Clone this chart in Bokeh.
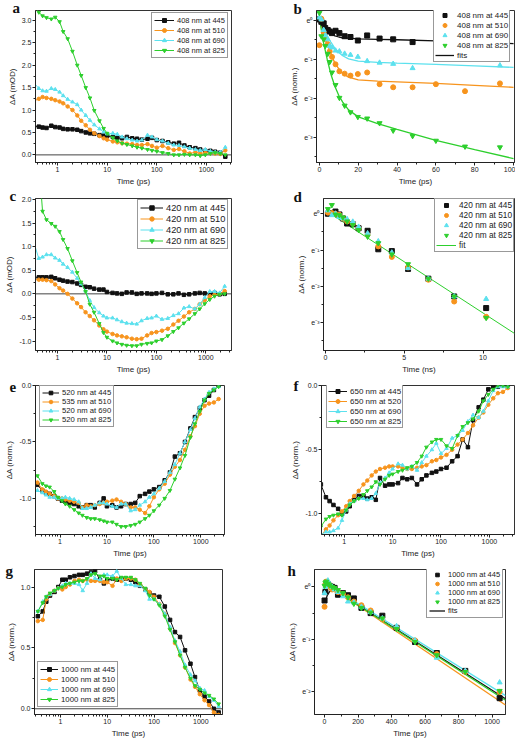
import numpy as np
from bokeh.plotting import figure
from bokeh.layouts import column, row
from bokeh.models import (Range1d, FixedTicker, SingleIntervalTicker, Legend, LegendItem,
                          Span, Title, CustomJSTickFormatter, NumeralTickFormatter)
from bokeh.embed import file_html
from bokeh.resources import INLINE

FONT = "Liberation Sans"
TXT = "#222222"
C445, C510, C690, C825 = "#111111", "#F7941D", "#5CE1EE", "#2DCF2D"

# ---------------- shared log time grid (ps) ----------------
T = [0.33, 0.42, 0.5, 0.6, 0.75, 0.9, 1.1, 1.3, 1.6, 2, 2.5, 3, 3.7, 4.5, 5.5, 7, 8.5, 10,
     13, 16, 20, 25, 32, 40, 50, 65, 80, 100, 130, 170, 220, 280, 360, 460, 600, 750, 950,
     1200, 1500, 1900, 2400]

# ---------------- panel a (mOD) ----------------
a_labels = ["408 nm at 445", "408 nm at 510", "408 nm at 690", "408 nm at 825"]
a_445 = [0.64, 0.63, 0.61, 0.60, 0.65, 0.62, 0.61, 0.58, 0.57, 0.57, 0.56, 0.53, 0.50, 0.48, 0.47,
         0.44, 0.43, 0.42, 0.40, 0.38, 0.37, 0.40, 0.37, 0.36, 0.34, 0.36, 0.38, 0.33, 0.31, 0.28,
         0.25, 0.27, 0.21, 0.17, 0.15, 0.12, 0.09, 0.09, 0.07, 0.05, -0.04]
a_510 = [1.20, 1.25, 1.29, 1.27, 1.25, 1.22, 1.19, 1.15, 1.08, 1.00, 0.88, 0.76, 0.66, 0.56, 0.48,
         0.42, 0.37, 0.34, 0.30, 0.28, 0.26, 0.25, 0.24, 0.22, 0.22, 0.24, 0.20, 0.16, 0.20, 0.15,
         0.11, 0.13, 0.08, 0.03, 0.06, 0.03, 0.05, 0.04, 0.03, 0.02, 0.10]
a_690 = [1.62, 1.48, 1.43, 1.42, 1.48, 1.46, 1.40, 1.32, 1.24, 1.18, 1.12, 1.00, 0.88, 0.77, 0.67,
         0.58, 0.51, 0.47, 0.48, 0.46, 0.40, 0.36, 0.33, 0.31, 0.33, 0.44, 0.40, 0.34, 0.31, 0.26,
         0.22, 0.21, 0.18, 0.15, 0.12, 0.10, 0.12, 0.08, 0.06, 0.06, 0.17]
a_825 = [3.35, 3.18, 3.10, 3.06, 3.03, 3.07, 2.97, 2.75, 2.59, 2.31, 2.00, 1.77, 1.50, 1.27, 0.99,
         0.76, 0.59, 0.48, 0.38, 0.31, 0.26, 0.23, 0.20, 0.17, 0.15, 0.12, 0.10, 0.08, 0.05, 0.03,
         0.00, 0.00, 0.01, 0.00, 0.00, -0.02, 0.00, 0.03, 0.05, 0.03, 0.00]

# ---------------- panel b (ln of normalised dA) ----------------
b_labels = ["408 nm at 445", "408 nm at 510", "408 nm at 690", "408 nm at 825", "fits"]
tb = [0, 1, 2.2, 3, 4.3, 5.3, 6.5, 8.3, 10.3, 13, 16, 19.8, 24.6, 31, 38, 48, 60, 75, 93]
nan = float("nan")
b_445_ln = [0.02, -0.04, -0.08, -0.20, -0.25, -0.29, -0.33, -0.27, -0.33, -0.41, -0.43, -0.52,
            -0.39, -0.47, -0.49, -0.56, nan, nan, nan]
b_510_ln = [-0.64, 0.04, -0.31, -0.48, -0.61, -0.80, -0.94, -1.13, -1.31, -1.37, -1.42, -1.38,
            -1.34, -1.64, -1.72, -1.72, -1.64, -1.82, -1.62]
b_690_ln = [0.07, 0.02, -0.25, -0.39, -0.49, -0.66, -0.70, -0.78, -0.80, -0.86, -0.89, -0.94,
            -1.05, -1.09, -1.12, -1.23, nan, nan, -1.16]
b_825_ln = [0.19, -0.41, -0.49, -0.66, -0.86, -1.07, -1.34, -1.66, -1.99, -2.19, -2.36, -2.48,
            -2.52, -2.64, -2.83, -2.97, -3.09, -3.24, -3.26]
tb_fit = [0, 2, 4, 6, 8, 10, 12, 15, 20, 30, 40, 60, 80, 100]
b_445_fit = [0.0, -0.15, -0.27, -0.35, -0.40, -0.43, -0.45, -0.46, -0.48, -0.49, -0.50, -0.53, -0.56, -0.60]
b_510_fit = [0.0, -0.30, -0.60, -0.88, -1.10, -1.25, -1.37, -1.46, -1.53, -1.56, -1.58, -1.62, -1.67, -1.72]
b_690_fit = [0.0, -0.20, -0.40, -0.57, -0.72, -0.83, -0.91, -0.99, -1.05, -1.08, -1.10, -1.13, -1.17, -1.21]
b_825_fit = [0.05, -0.55, -1.00, -1.40, -1.70, -1.93, -2.10, -2.30, -2.48, -2.65, -2.80, -3.08, -3.32, -3.55]

# ---------------- panel c (mOD) ----------------
c_labels = ["420 nm at 445", "420 nm at 510", "420 nm at 690", "420 nm at 825"]
c_445 = [0.35, 0.35, 0.35, 0.35, 0.36, 0.33, 0.30, 0.28, 0.26, 0.25, 0.22, 0.19, 0.15, 0.14, 0.11,
         0.09, 0.09, 0.04, 0.02, 0.01, 0.00, 0.03, 0.03, 0.00, 0.01, 0.01, 0.00, 0.01, 0.02, -0.01,
         -0.01, 0.01, -0.02, -0.01, 0.01, 0.02, 0.01, 0.00, 0.02, -0.01, 0.00]
c_510 = [0.30, 0.30, 0.30, 0.29, 0.27, 0.20, 0.12, 0.07, 0.00, -0.10, -0.20, -0.28, -0.39, -0.47, -0.56,
         -0.67, -0.75, -0.80, -0.85, -0.88, -0.90, -0.92, -0.95, -0.96, -0.95, -0.88, -0.83, -0.81,
         -0.78, -0.74, -0.65, -0.57, -0.48, -0.39, -0.32, -0.22, -0.13, -0.05, -0.02, 0.00, 0.06]
c_690 = [1.10, 0.75, 0.78, 0.83, 0.83, 0.76, 0.71, 0.63, 0.56, 0.46, 0.33, 0.21, 0.06, -0.14, -0.29,
         -0.40, -0.47, -0.51, -0.51, -0.55, -0.59, -0.62, -0.63, -0.64, -0.57, -0.52, -0.51, -0.47,
         -0.54, -0.52, -0.46, -0.42, -0.30, -0.27, -0.32, -0.22, -0.08, 0.05, 0.05, 0.02, 0.16]
c_825 = [3.20, 2.80, 1.75, 1.57, 1.49, 1.43, 1.32, 1.15, 0.96, 0.70, 0.45, 0.25, 0.05, -0.22, -0.39,
         -0.63, -0.82, -0.92, -1.00, -1.04, -1.07, -1.09, -1.10, -1.10, -1.07, -1.05, -1.04, -1.00,
         -0.97, -0.89, -0.80, -0.72, -0.62, -0.53, -0.42, -0.32, -0.21, -0.12, -0.05, -0.01, 0.00]

# ---------------- panel d (ln, time in ns) ----------------
d_labels = ["420 nm at 445", "420 nm at 510", "420 nm at 690", "420 nm at 825", "fit"]
td = [0.15, 0.4, 0.63, 0.88, 1.1, 1.37, 1.73, 2.1, 2.67, 3.35, 4.21, 5.24, 6.53, 8.17, 10.2]
d_445_ln = [0.00, 0.02, 0.06, -0.02, -0.13, -0.27, -0.29, -0.40, -0.47, -0.98, -1.03, -1.52, -1.79, -2.28, -2.60]
d_510_ln = [0.03, 0.02, 0.00, -0.03, -0.13, -0.21, -0.27, -0.40, -0.58, -0.90, -1.19, -1.48, -1.82, -2.42, -2.84]
d_690_ln = [0.09, -0.04, 0.00, -0.09, -0.13, -0.15, -0.22, -0.36, -0.54, -0.76, -1.07, -1.50, -1.79, -2.28, -2.35]
d_825_ln = [0.13, 0.24, -0.02, -0.04, -0.10, -0.21, -0.31, -0.45, -0.63, -0.81, -1.12, -1.39, -1.79, -2.28, -2.87]
td_fit = [0.2, 12.0]
d_fit_ln = [0.03, -3.30]

# ---------------- panel e (norm.) ----------------
e_labels = ["520 nm at 445", "535 nm at 510", "520 nm at 690", "520 nm at 825"]
e_445 = [-0.88, -0.93, -0.95, -0.96, -0.98, -1.00, -1.02, -1.03, -1.04, -1.05, -1.07, -1.08, -1.06,
         -1.06, -1.08, -1.04, -1.00, -1.07, -1.06, -1.08, -1.07, -1.05, -1.05, -1.04, -0.98, -0.96,
         -0.94, -0.92, -0.90, -0.84, -0.77, -0.63, -0.60, -0.50, -0.38, -0.28, -0.20, -0.13, -0.09,
         -0.04, 0.00]
e_510 = [-0.86, -0.92, -0.94, -0.96, -0.98, -1.00, -1.00, -1.01, -1.02, -1.03, -1.04, -1.08, -1.06,
         -1.07, -1.06, -1.05, -1.04, -1.03, -1.02, -1.01, -1.03, -1.05, -1.08, -1.08, -1.10, -1.13,
         -1.07, -0.99, -0.92, -0.87, -0.79, -0.72, -0.66, -0.57, -0.45, -0.36, -0.25, -0.18, -0.16,
         -0.15, -0.12]
e_690 = [-0.93, -0.95, -0.97, -0.99, -0.99, -1.00, -1.00, -0.99, -1.00, -1.01, -1.03, -1.09, -1.09,
         -1.08, -1.06, -1.04, -1.04, -1.05, -1.07, -1.08, -1.05, -1.05, -1.11, -1.10, -1.06, -1.03,
         -0.99, -0.96, -0.91, -0.85, -0.77, -0.70, -0.60, -0.50, -0.39, -0.29, -0.19, -0.12, -0.06,
         -0.03, -0.01]
e_825 = [-0.80, -0.87, -0.89, -0.90, -0.94, -0.99, -1.02, -1.05, -1.07, -1.10, -1.13, -1.15, -1.17,
         -1.18, -1.18, -1.19, -1.20, -1.21, -1.21, -1.23, -1.25, -1.25, -1.24, -1.23, -1.21, -1.18,
         -1.15, -1.11, -1.06, -1.00, -0.93, -0.83, -0.73, -0.62, -0.46, -0.34, -0.23, -0.13, -0.07,
         -0.04, -0.01]

# ---------------- panel f (norm.) ----------------
f_labels = ["650 nm at 445", "650 nm at 520", "650 nm at 690", "650 nm at 825"]
f_445 = [-0.77, -0.87, -0.90, -0.93, -0.96, -1.00, -0.98, -0.94, -0.89, -0.86, -0.86, -0.88, -0.87,
         -0.89, -0.72, -0.78, -0.77, -0.77, -0.76, -0.72, -0.73, -0.72, -0.77, -0.73, -0.70, -0.68,
         -0.67, -0.65, -0.64, -0.59, -0.55, -0.42, -0.48, -0.27, -0.17, -0.11, -0.03, -0.01, -0.01,
         0.00, -0.01]
f_520 = [-1.17, -1.12, -1.09, -1.05, -1.01, -0.98, -0.94, -0.90, -0.86, -0.82, -0.77, -0.74, -0.70,
         -0.67, -0.65, -0.64, -0.63, -0.63, -0.63, -0.64, -0.65, -0.65, -0.64, -0.63, -0.62, -0.59,
         -0.58, -0.56, -0.54, -0.50, -0.46, -0.42, -0.37, -0.31, -0.25, -0.21, -0.15, -0.10, -0.06,
         -0.05, -0.02]
f_690 = [-1.16, -1.14, -1.14, -1.13, -1.11, -1.05, -0.97, -0.92, -0.90, -0.88, -0.88, -0.89, -0.88,
         -0.84, -0.76, -0.72, -0.68, -0.65, -0.61, -0.62, -0.65, -0.63, -0.66, -0.60, -0.55, -0.50,
         -0.45, -0.53, -0.49, -0.41, -0.39, -0.35, -0.28, -0.23, -0.25, -0.20, -0.12, -0.04, -0.01,
         -0.01, -0.01]
f_825 = [-1.10, -1.04, -1.02, -1.01, -1.00, -1.01, -0.97, -0.93, -0.90, -0.88, -0.85, -0.82, -0.79,
         -0.75, -0.77, -0.73, -0.70, -0.69, -0.67, -0.66, -0.64, -0.63, -0.60, -0.55, -0.48, -0.44,
         -0.42, -0.42, -0.47, -0.49, -0.39, -0.32, -0.29, -0.26, -0.20, -0.12, -0.07, -0.03, 0.00,
         0.00, -0.01]

# ---------------- panel g (norm.) ----------------
g_labels = ["1000 nm at 445", "1000 nm at 510", "1000 nm at 690", "1000 nm at 825"]
g_445 = [0.76, 0.80, 0.88, 0.93, 0.96, 1.00, 1.06, 1.06, 1.08, 1.09, 1.10, 1.10, 1.11, 1.12, 1.13,
         1.06, 1.03, 1.06, 1.07, 1.06, 1.07, 1.07, 1.06, 1.04, 1.01, 0.98, 0.95, 0.93, 0.92, 0.84,
         0.73, 0.63, 0.59, 0.48, 0.37, 0.26, 0.15, 0.10, 0.06, 0.00, -0.03]
g_510 = [0.72, 0.73, 0.90, 0.94, 0.97, 0.99, 0.98, 1.00, 1.02, 1.05, 1.06, 1.05, 1.06, 1.05, 1.05,
         1.05, 1.04, 1.04, 1.01, 1.07, 1.05, 1.07, 1.07, 1.06, 1.02, 0.98, 0.96, 0.92, 0.86, 0.78,
         0.66, 0.54, 0.44, 0.34, 0.24, 0.18, 0.12, 0.07, 0.03, -0.03, -0.05]
g_690 = [0.80, 0.88, 0.92, 0.94, 0.97, 0.99, 1.01, 1.03, 1.03, 1.03, 1.02, 0.97, 1.03, 1.11, 1.07,
         1.06, 1.10, 1.10, 1.09, 1.13, 1.07, 1.02, 1.02, 1.01, 1.01, 0.97, 0.90, 0.90, 0.86, 0.78,
         0.67, 0.56, 0.47, 0.36, 0.28, 0.23, 0.17, 0.15, 0.10, 0.07, 0.02]
g_825 = [0.80, 0.87, 0.92, 0.95, 0.97, 0.99, 1.00, 1.02, 1.03, 1.04, 1.05, 1.05, 1.07, 1.10, 1.11,
         1.09, 1.09, 1.07, 1.07, 1.06, 1.08, 1.08, 1.08, 1.06, 1.03, 0.99, 0.93, 0.90, 0.85, 0.76,
         0.65, 0.55, 0.44, 0.34, 0.25, 0.19, 0.16, 0.13, 0.11, 0.08, 0.04]

# ---------------- panel h (ln) ----------------
h_labels = ["1000 nm at 445", "1000 nm at 510", "1000 nm at 690", "1000 nm at 825", "fits"]
th = [0, 5, 10, 20, 30, 45, 60, 80, 110, 140, 175, 220, 275, 345, 430, 540, 670, 840, 1045]
h_445_ln = [-0.26, -0.10, 0.03, 0.05, 0.02, 0.00, -0.02, -0.15, -0.12, -0.16, -0.22, -0.40, -0.50,
            -0.55, -0.78, -1.05, -1.26, -1.60, -2.12]
h_510_ln = [-0.38, 0.05, 0.10, 0.02, 0.00, -0.05, -0.05, -0.10, -0.14, -0.20, -0.28, -0.35, -0.45,
            -0.62, -0.78, -1.02, -1.28, -1.62, -2.00]
h_690_ln = [-0.12, 0.00, 0.05, 0.12, 0.05, 0.00, -0.05, -0.10, -0.18, -0.28, -0.30, -0.38, -0.48,
            -0.60, -0.75, -1.02, -1.35, -1.60, -1.82]
h_825_ln = [0.02, 0.08, 0.10, 0.06, 0.03, 0.00, -0.02, -0.06, -0.12, -0.20, -0.32, -0.40, -0.49,
            -0.60, -0.80, -1.05, -1.30, -1.62, -1.98]
th_fit_445 = [5, 15, 30, 60, 1080]
h_445_fit = [-0.30, -0.17, -0.09, -0.06, -2.13]
th_fit = [10, 1080]
h_510_fit = [0.05, -2.25]
h_690_fit = [0.06, -2.07]
h_825_fit = [0.04, -2.16]

LOG_MAJOR = [1, 10, 100, 1000]
LOG_MINOR = [0.3, 0.4, 0.5, 0.6, 0.7, 0.8, 0.9, 2, 3, 4, 5, 6, 7, 8, 9, 20, 30, 40, 50, 60, 70, 80,
             90, 200, 300, 400, 500, 600, 700, 800, 900, 2000, 3000]

E_FMT = """
const n = Math.round(Math.log(tick));
const m = {"0": "\\u2070", "1": "\\u00b9", "2": "\\u00b2", "3": "\\u00b3", "4": "\\u2074", "-": "\\u207b"};
return "e" + String(n).split("").map((c) => m[c]).join("");
"""


def make_fig(w, h, borders, xr, yr, x_log=False, y_log=False, xlabel="Time (ps)", ylabel="\u0394A (norm.)"):
    bl, br, bt, bb = borders
    p = figure(width=w, height=h, output_backend="svg", toolbar_location=None,
               x_axis_type="log" if x_log else "linear",
               y_axis_type="log" if y_log else "linear",
               x_range=Range1d(*xr), y_range=Range1d(*yr),
               min_border_left=bl, min_border_right=br, min_border_top=bt, min_border_bottom=bb)
    p.grid.visible = False
    p.outline_line_color = "#333333"
    p.outline_line_width = 1
    p.background_fill_color = "white"
    p.border_fill_color = "white"
    p.xaxis.axis_label = xlabel
    p.yaxis.axis_label = ylabel
    for ax in list(p.xaxis) + list(p.yaxis):
        ax.axis_line_color = TXT
        ax.major_tick_line_color = TXT
        ax.minor_tick_line_color = TXT
        ax.major_tick_in = 0
        ax.major_tick_out = 3
        ax.minor_tick_in = 0
        ax.minor_tick_out = 2
        ax.major_label_text_font = FONT
        ax.major_label_text_font_size = "7px"
        ax.major_label_text_color = TXT
        ax.major_label_standoff = 1
        ax.axis_label_text_font = FONT
        ax.axis_label_text_font_size = "8px"
        ax.axis_label_text_font_style = "normal"
        ax.axis_label_text_color = TXT
        ax.axis_label_standoff = 2
    if x_log:
        p.xaxis.ticker = FixedTicker(ticks=LOG_MAJOR, minor_ticks=LOG_MINOR)
        p.xaxis.formatter = NumeralTickFormatter(format="0")
    if y_log:
        p.yaxis.ticker = FixedTicker(ticks=[np.exp(-k) for k in range(0, 4)],
                                     minor_ticks=[np.exp(-k - 0.5) for k in range(-1, 4)])
        p.yaxis.formatter = CustomJSTickFormatter(code=E_FMT)
    else:
        p.yaxis.formatter = NumeralTickFormatter(format="0.0")
    return p


def letter(p, txt, dx, standoff):
    p.add_layout(Title(text=txt, align="left", offset=dx, standoff=standoff,
                       vertical_align="bottom", text_font="Liberation Serif",
                       text_font_style="bold", text_font_size="15px", text_color="#111111"),
                 "above")


def series(p, x, y, color, marker, size=3.5):
    r1 = p.line(np.array(x, dtype=float), np.array(y, dtype=float), line_color=color, line_width=1)
    r2 = p.scatter(np.array(x, dtype=float), np.array(y, dtype=float), marker=marker, size=size,
                   fill_color=color, line_color=color)
    return [r1, r2]


def points(p, x, y_ln, color, marker, size=5):
    return [p.scatter(np.array(x, dtype=float), np.exp(np.array(y_ln, dtype=float)), marker=marker,
                      size=size, fill_color=color, line_color=color)]


def fitline(p, x, y_ln, color, lw=1.3):
    return p.line(np.array(x, dtype=float), np.exp(np.array(y_ln, dtype=float)), line_color=color,
                  line_width=lw)


def legend(p, labels, rends, loc, font, row_h, pad, glyph_w=18):
    items = [LegendItem(label=l, renderers=r) for l, r in zip(labels, rends)]
    leg = Legend(items=items, location=loc, orientation="vertical",
                 label_text_font=FONT, label_text_font_size=font, label_text_color=TXT,
                 glyph_width=glyph_w, glyph_height=row_h, label_height=row_h,
                 label_standoff=3, spacing=0, padding=pad, margin=0,
                 border_line_color="#333333", border_line_width=1,
                 background_fill_color="white", background_fill_alpha=1)
    p.add_layout(leg)


def zero_line(p):
    p.add_layout(Span(location=0, dimension="width", line_color="#444444", line_width=1,
                      level="underlay"))


MARKS = ["square", "circle", "triangle", "inverted_triangle"]
COLS = [C445, C510, C690, C825]

# ---------- a ----------
pa = make_fig(256, 188, (35, 25, 10, 24), (0.36, 3200), (-0.17, 3.22), x_log=True, ylabel="\u0394A (mOD)")
pa.yaxis.ticker = SingleIntervalTicker(interval=0.5, num_minor_ticks=2)
zero_line(pa)
ra = [series(pa, T, y, c, m) for y, c, m in zip([a_445, a_510, a_690, a_825], COLS, MARKS)]
legend(pa, a_labels, ra, (116, 104), "7.5px", 10, 2, 20)
letter(pa, "a", -23, -10)

# ---------- b ----------
pb = make_fig(259, 188, (60, 1, 10, 24), (-1.5, 100.5), (np.exp(-3.65), np.exp(0.25)), y_log=True)
pb.xaxis.ticker = SingleIntervalTicker(interval=20, num_minor_ticks=2)
pb.xaxis.formatter = NumeralTickFormatter(format="0")
fb = [fitline(pb, tb_fit, y, c) for y, c in zip([b_445_fit, b_510_fit, b_690_fit, b_825_fit], COLS)]
rb = [points(pb, tb, y, c, m) for y, c, m in zip([b_445_ln, b_510_ln, b_690_ln, b_825_ln], COLS, MARKS)]
legend(pb, b_labels, rb + [[fb[0]]], (117, 100), "8px", 10, 1, 19)
letter(pb, "b", -23, -12)

# ---------- c ----------
pc = make_fig(256, 188, (35, 25, 10, 24), (0.36, 3300), (-1.2, 2.02), x_log=True, ylabel="\u0394A (mOD)")
pc.yaxis.ticker = SingleIntervalTicker(interval=0.5, num_minor_ticks=2)
zero_line(pc)
rc = [series(pc, T, y, c, m) for y, c, m in zip([c_445, c_510, c_690, c_825], COLS, MARKS)]
legend(pc, c_labels, rc, (102, 101), "9.3px", 11, 2, 23)
letter(pc, "c", -26, -10)

# ---------- d ----------
pdd = make_fig(259, 188, (67, 1, 10, 24), (-0.13, 12.0), (np.exp(-3.77), np.exp(0.42)), y_log=True,
               xlabel="Time (ns)")
pdd.xaxis.ticker = SingleIntervalTicker(interval=5, num_minor_ticks=2)
pdd.xaxis.formatter = NumeralTickFormatter(format="0")
fd = fitline(pdd, td_fit, d_fit_ln, C825, 1.0)
rd = [points(pdd, td, y, c, m) for y, c, m in zip([d_445_ln, d_510_ln, d_690_ln, d_825_ln], COLS, MARKS)]
legend(pdd, d_labels, rd + [[fd]], (111, 98), "8.3px", 10, 1, 20)
letter(pdd, "d", -30, -12)

# ---------- e ----------
pe = make_fig(256, 184, (35, 32, 9, 24), (0.3, 3200), (-1.32, 0.0), x_log=True)
pe.yaxis.ticker = SingleIntervalTicker(interval=0.5, num_minor_ticks=2)
re_ = [series(pe, T, y, c, m) for y, c, m in zip([e_445, e_510, e_690, e_825], COLS, MARKS)]
legend(pe, e_labels, re_, (4, 107), "7.7px", 9, 2, 17)
letter(pe, "e", -26, -12)

# ---------- f ----------
pf = make_fig(259, 184, (65, 1, 9, 24), (0.34, 3300), (-1.16, 0.0), x_log=True)
pf.yaxis.ticker = SingleIntervalTicker(interval=0.5, num_minor_ticks=2)
rf = [series(pf, T, y, c, m) for y, c, m in zip([f_445, f_520, f_690, f_825], COLS, MARKS)]
legend(pf, f_labels, rf, (5, 106), "8px", 10, 1, 19)
letter(pf, "f", -28, -16)

# ---------- g ----------
pg = make_fig(256, 180, (34, 34, 9, 24), (0.28, 2900), (-0.047, 1.144), x_log=True)
pg.yaxis.ticker = SingleIntervalTicker(interval=0.5, num_minor_ticks=2)
zero_line(pg)
rg = [series(pg, T, y, c, m) for y, c, m in zip([g_445, g_510, g_690, g_825], COLS, MARKS)]
legend(pg, g_labels, rg, (3, 7), "7.8px", 10, 2, 18)
letter(pg, "g", -29, -18)

# ---------- h ----------
ph = make_fig(259, 180, (58, 10, 9, 24), (-60, 1080), (np.exp(-2.43), np.exp(0.33)), y_log=True)
ph.xaxis.ticker = SingleIntervalTicker(interval=200, num_minor_ticks=2)
ph.xaxis.formatter = NumeralTickFormatter(format="0")
fh0 = fitline(ph, th_fit_445, h_445_fit, C445)
fh1 = fitline(ph, th_fit, h_510_fit, C510)
fh2 = fitline(ph, th_fit, h_690_fit, C690)
fh3 = fitline(ph, th_fit, h_825_fit, C825)
rh = [points(ph, th, y, c, m) for y, c, m in zip([h_445_ln, h_510_ln, h_690_ln, h_825_ln], COLS, MARKS)]
legend(ph, h_labels, rh + [[fh0]], (112, 96), "7.5px", 9, 2, 16)
letter(ph, "h", -27, -18)

layout = column(row(pa, pb), row(pc, pdd), row(pe, pf), row(pg, ph))
with open("out.html", "w", encoding="utf-8") as fh:
    fh.write(file_html(layout, INLINE))
